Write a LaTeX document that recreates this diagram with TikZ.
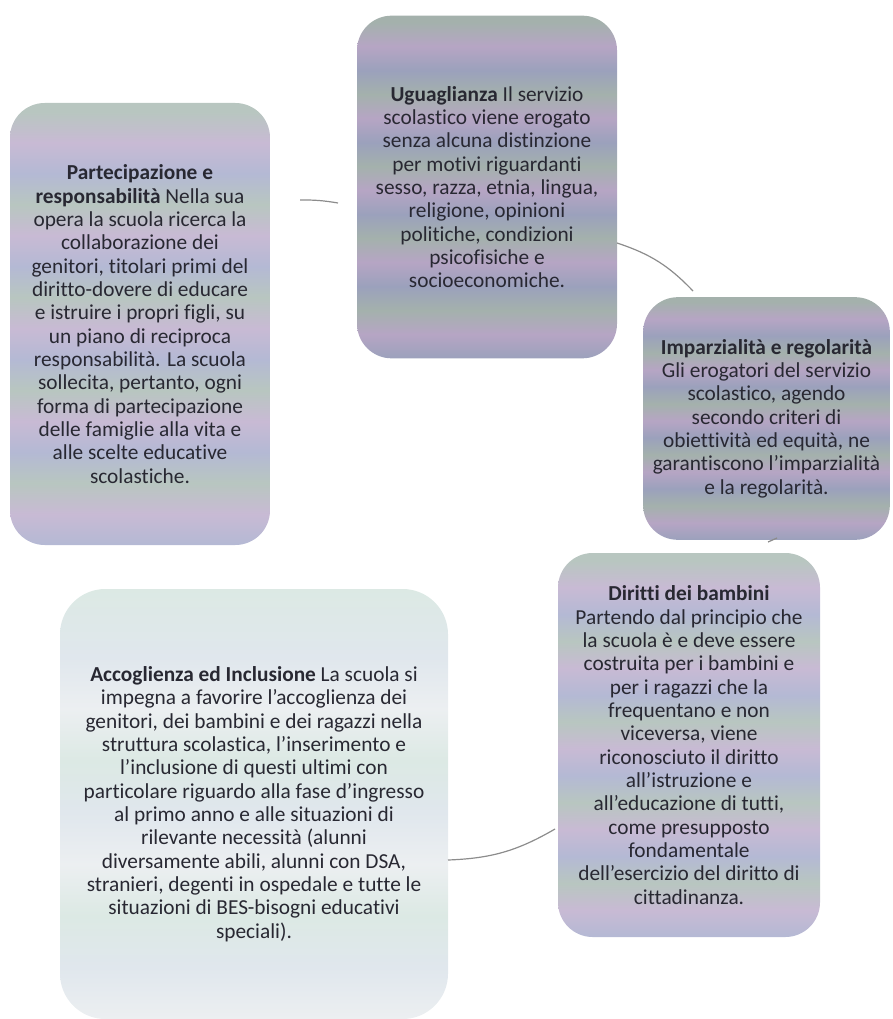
\documentclass[tikz,border=0pt]{standalone}
\usepackage{fontspec}
\setmainfont{Carlito}[RawFeature={-liga;-clig;-calt}]

\definecolor{txt}{RGB}{40,40,50}
\definecolor{linkgrey}{RGB}{140,140,140}
% dark bands
\definecolor{dkb}{RGB}{155,161,188}
\definecolor{dkg}{RGB}{164,177,172}
\definecolor{dkp}{RGB}{182,165,196}
% light bands
\definecolor{ltb}{RGB}{180,185,212}
\definecolor{ltg}{RGB}{184,198,192}
\definecolor{ltp}{RGB}{200,186,212}
% pale bands
\definecolor{plb}{RGB}{224,231,237}
\definecolor{plg}{RGB}{220,233,228}
\definecolor{plw}{RGB}{236,239,241}

\pgfdeclareverticalshading{bandsdark}{100bp}{color(0bp)=(dkb); color(25bp)=(dkb);
  color(28.5bp)=(dkp); color(32bp)=(dkg); color(35.5bp)=(dkb); color(39bp)=(dkp);
  color(42.5bp)=(dkg); color(46bp)=(dkb); color(49.5bp)=(dkp); color(53bp)=(dkg);
  color(56.5bp)=(dkb); color(60bp)=(dkp); color(63.5bp)=(dkg); color(67bp)=(dkb);
  color(70.5bp)=(dkp); color(74bp)=(dkg); color(100bp)=(dkg)}
\pgfdeclareverticalshading{bandslight}{100bp}{color(0bp)=(ltb); color(25bp)=(ltb);
  color(28.5bp)=(ltp); color(32bp)=(ltg); color(35.5bp)=(ltb); color(39bp)=(ltp);
  color(42.5bp)=(ltg); color(46bp)=(ltb); color(49.5bp)=(ltp); color(53bp)=(ltg);
  color(56.5bp)=(ltb); color(60bp)=(ltp); color(63.5bp)=(ltg); color(67bp)=(ltb);
  color(70.5bp)=(ltp); color(74bp)=(ltg); color(100bp)=(ltg)}
\pgfdeclareverticalshading{bandspale}{100bp}{color(0bp)=(plw); color(25bp)=(plw);
  color(31bp)=(plb); color(37bp)=(plg); color(43bp)=(plw); color(49bp)=(plb);
  color(55bp)=(plg); color(61bp)=(plw); color(67bp)=(plb); color(75bp)=(plg);
  color(100bp)=(plg)}

\tikzset{
  box/.style={rectangle, rounded corners=26pt, shade, align=center, text=txt,
    inner sep=0pt, font=\fontsize{16}{17.5}\selectfont},
  link/.style={draw=linkgrey, line width=0.9pt},
}

\begin{document}
\begin{tikzpicture}[x=0.75pt,y=-0.75pt]
  \useasboundingbox (0,0) rectangle (892,1019);

  \node[box,shading=bandslight,minimum width=195pt,minimum height=331.5pt] (par) at (140,324)
    {\textbf{Partecipazione e}\\
     \textbf{responsabilità} Nella sua\\
     opera la scuola ricerca la\\
     collaborazione dei\\
     genitori, titolari primi del\\
     diritto-dovere di educare\\
     e istruire i propri figli, su\\
     un piano di reciproca\\
     responsabilità. La scuola\\
     sollecita, pertanto, ogni\\
     forma di partecipazione\\
     delle famiglie alla vita e\\
     alle scelte educative\\
     scolastiche.};
  \node[box,shading=bandsdark,minimum width=195pt,minimum height=257pt] (ugu) at (487,187)
    {\textbf{Uguaglianza} Il servizio\\
     scolastico viene erogato\\
     senza alcuna distinzione\\
     per motivi riguardanti\\
     sesso, razza, etnia, lingua,\\
     religione, opinioni\\
     politiche, condizioni\\
     psicofisiche e\\
     socioeconomiche.};
  \node[box,shading=bandsdark,minimum width=185pt,minimum height=182pt] (imp) at (766.5,418.5)
    {\textbf{Imparzialità e regolarità}\\
     Gli erogatori del servizio\\
     scolastico, agendo\\
     secondo criteri di\\
     obiettività ed equità, ne\\
     garantiscono l’imparzialità\\
     e la regolarità.};
  \node[box,shading=bandslight,minimum width=196.5pt,minimum height=288pt] (dir) at (689,745)
    {\textbf{Diritti dei bambini}\\
     Partendo dal principio che\\
     la scuola è e deve essere\\
     costruita per i bambini e\\
     per i ragazzi che la\\
     frequentano e non\\
     viceversa, viene\\
     riconosciuto il diritto\\
     all’istruzione e\\
     all’educazione di tutti,\\
     come presupposto\\
     fondamentale\\
     dell’esercizio del diritto di\\
     cittadinanza.};
  \node[box,shading=bandspale,rounded corners=34pt,minimum width=291pt,minimum height=322.5pt] (acc) at (254,804)
    {\textbf{Accoglienza ed Inclusione} La scuola si\\
     impegna a favorire l’accoglienza dei\\
     genitori, dei bambini e dei ragazzi nella\\
     struttura scolastica, l’inserimento e\\
     l’inclusione di questi ultimi con\\
     particolare riguardo alla fase d’ingresso\\
     al primo anno e alle situazioni di\\
     rilevante necessità (alunni\\
     diversamente abili, alunni con DSA,\\
     stranieri, degenti in ospedale e tutte le\\
     situazioni di BES-bisogni educativi\\
     speciali).};

  % pieces of the cycle between the boxes
  \coordinate (a1) at (300,200);
  \coordinate (a2) at (338,203);
  \coordinate (b1) at (617,243);
  \coordinate (b2) at (693,291);
  \coordinate (c1) at (768,542);
  \coordinate (c2) at (777,538);
  \coordinate (d1) at (555,829);
  \coordinate (d2) at (448,860);

  \draw[link] (a1) to[bend left=5] (a2);
  \draw[link] (b1) to[bend left=14] (b2);
  \draw[link] (c1) -- (c2);
  \draw[link] (d2) to[bend right=14] (d1);
\end{tikzpicture}
\end{document}
